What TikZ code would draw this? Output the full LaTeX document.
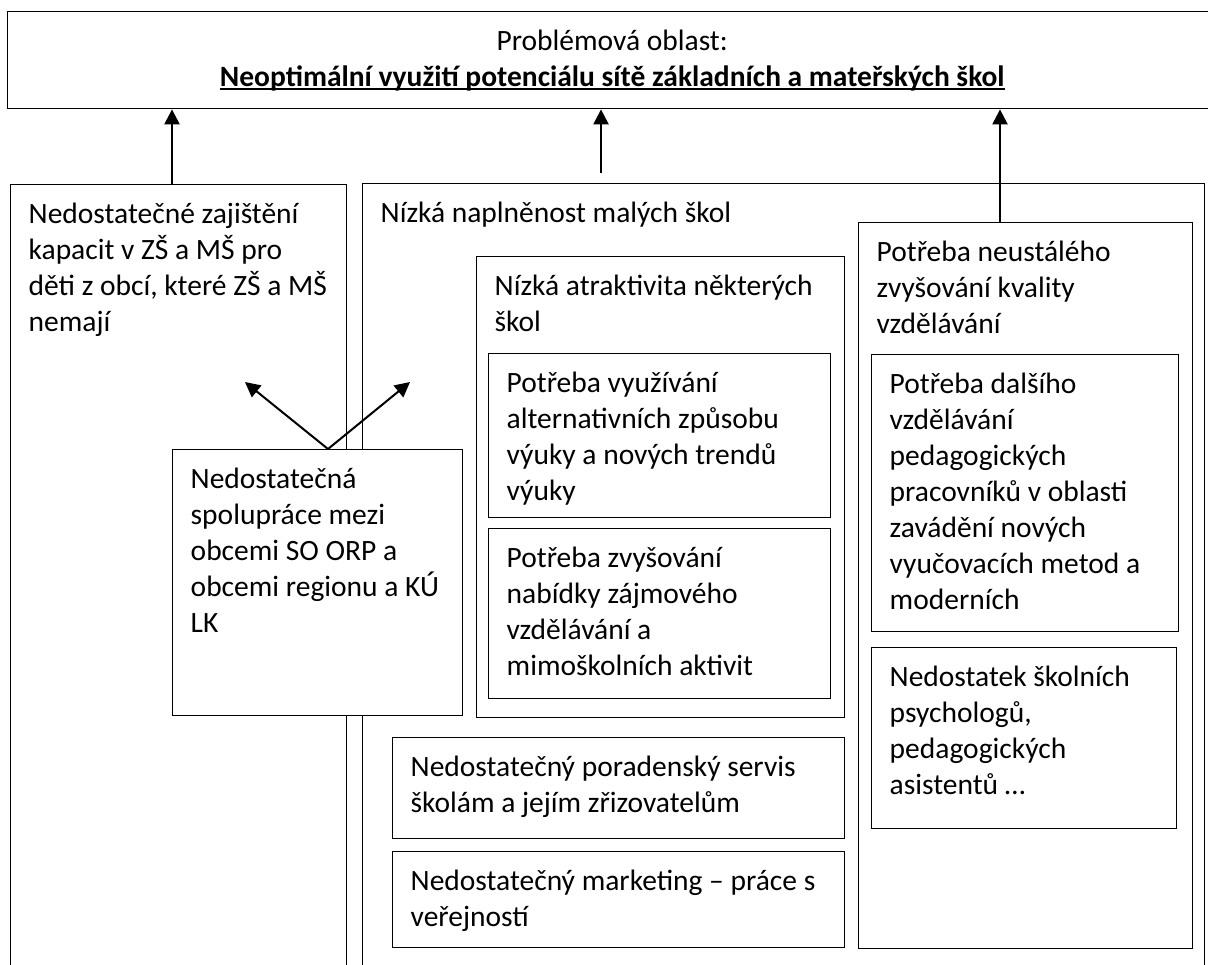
\documentclass[tikz,border=0pt]{standalone}
\usepackage{fontspec}
\setmainfont{Carlito}
\usetikzlibrary{arrows.meta}
\newcommand{\titleline}[1]{\leavevmode\setbox0\hbox{#1}\rlap{\rule[-1.7pt]{\wd0}{0.9pt}}\box0}
\tikzset{
  box/.style={draw, fill=white, line width=0.7pt, anchor=north west,
    inner xsep=9pt, inner ysep=0pt, align=flush left, text height=19.4pt,
    font=\fontsize{14.75}{18}\selectfont},
  arr/.style={-{Triangle[width=7.5pt,length=7.5pt]}, line width=1.2pt},
  arrd/.style={-{Triangle[width=7.5pt,length=7.5pt]}, line width=1pt}
}
\begin{document}
\begin{tikzpicture}[x=0.5pt, y=-0.5pt]
  \useasboundingbox (0,0) rectangle (1208,964);
  \node[box, align=flush center, text width=586.5pt, text depth=29.1pt] (problem) at (7,11)
    {Problémová oblast:\\\titleline{\textbf{Neoptimální využití potenciálu sítě základních a mateřských škol}}};
  \node[box, text width=150pt, text depth=383.6pt] (capacity) at (10,184)
    {Nedostatečné zajištění\\kapacit v ZŠ a MŠ pro\\děti z obcí, které ZŠ a MŠ\\nemají};
  \node[box, text width=403pt, text depth=384.1pt] (filling) at (362,183)
    {Nízká naplněnost malých škol};
  \node[box, text width=149pt, text depth=343.6pt] (quality) at (858,222)
    {Potřeba neustálého\\zvyšování kvality\\vzdělávání};
  \node[box, text width=166pt, text depth=211.1pt] (attract) at (476,256)
    {Nízká atraktivita některých\\škol};
  \node[box, text width=153pt, text depth=62.6pt] (methods) at (488,353)
    {Potřeba využívání\\alternativních způsobu\\výuky a nových trendů\\výuky};
  \node[box, text width=153pt, text depth=65.6pt] (leisure) at (488,528)
    {Potřeba zvyšování\\nabídky zájmového\\vzdělávání a\\mimoškolních aktivit};
  \node[box, text width=208pt, text depth=31.1pt] (advice) at (392,737)
    {Nedostatečný poradenský servis\\školám a jejím zřizovatelům};
  \node[box, text width=208pt, text depth=28.6pt] (marketing) at (392,851)
    {Nedostatečný marketing – práce s\\veřejností};
  \node[box, text width=135.5pt, text depth=119.1pt] (training) at (871,354)
    {Potřeba dalšího\\vzdělávání\\pedagogických\\pracovníků v oblasti\\zavádění nových\\vyučovacích metod a\\moderních};
  \node[box, text width=134.5pt, text depth=71.1pt] (psych) at (871,647)
    {Nedostatek školních\\psychologů,\\pedagogických\\asistentů …};
  \node[box, text width=127pt, text depth=113.6pt] (coop) at (172,449)
    {Nedostatečná\\spolupráce mezi\\obcemi SO ORP a\\obcemi regionu a KÚ\\LK};

  \coordinate (gap) at (601,173);
  \coordinate (tipl) at (245,382);
  \coordinate (tipr) at (410,382);
  \draw[arr] (capacity.north -| 172,0) -- (problem.south -| 172,0);
  \draw[arr] (gap) -- (problem.south -| gap);
  \draw[arr] (quality.north -| 1000,0) -- (problem.south -| 1000,0);
  \draw[arrd] (coop.north -| 328,0) -- (tipl);
  \draw[arrd] (coop.north -| 328,0) -- (tipr);
\end{tikzpicture}
\end{document}
